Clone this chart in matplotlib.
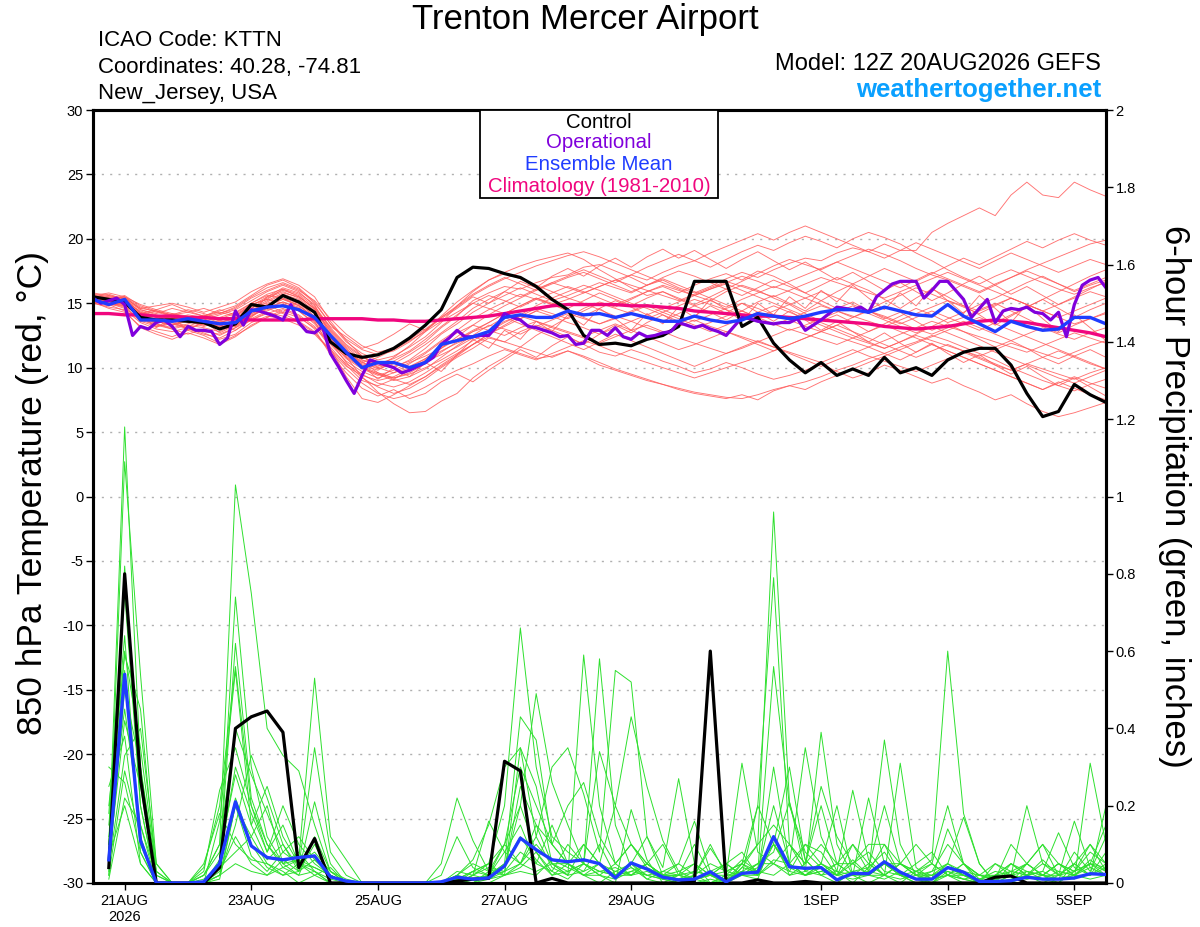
import matplotlib
matplotlib.use("Agg")
import matplotlib.pyplot as plt
import numpy as np
from matplotlib.patches import Rectangle

nan = float("nan")

# ---------------- data ----------------
hours6 = list(range(-12, 373, 6))   # 20AUG 12Z .. 5SEP 12Z, 6-hourly (65)
hours3 = list(range(-12, 373, 3))   # operational run, 3-hourly (129)

tick_hours = [0, 48, 96, 144, 192, 264, 312, 360]
tick_labels = ["21AUG\n2026", "23AUG", "25AUG", "27AUG", "29AUG", "1SEP", "3SEP", "5SEP"]

control_temp = [15.5, 15.3, 15.1, 13.9, 13.7, 13.7, 13.6, 13.5, 13.0, 13.4,
                14.9, 14.7, 15.6, 15.1, 14.3, 12.0, 11.1, 10.8, 11.0, 11.5,
                12.3, 13.3, 14.5, 17.0, 17.8, 17.7, 17.3, 17.0, 16.3, 15.3,
                14.5, 12.5, 11.8, 11.9, 11.7, 12.2, 12.5, 13.2, 16.7, 16.7,
                16.7, 13.2, 13.9, 11.9, 10.6, 9.6, 10.4, 9.4, 9.9, 9.4,
                10.8, 9.6, 10.0, 9.4, 10.6, 11.2, 11.5, 11.5, 10.2, 8.0,
                6.2, 6.6, 8.7, 7.9, 7.3]

mean_temp = [15.3, 14.9, 15.3, 13.7, 13.7, 13.6, 13.8, 13.6, 13.4, 13.5,
             14.4, 14.7, 14.8, 14.5, 13.9, 12.5, 11.2, 10.0, 10.4, 10.4,
             10.0, 10.4, 11.8, 12.1, 12.4, 12.8, 13.9, 14.1, 13.9, 13.9,
             14.4, 14.1, 14.2, 13.9, 14.2, 13.9, 13.6, 13.6, 14.0, 13.7,
             13.5, 13.7, 14.2, 14.0, 13.8, 14.0, 14.3, 14.5, 14.5, 14.3,
             14.7, 14.4, 14.1, 14.0, 14.9, 14.0, 13.4, 12.8, 13.6, 13.2,
             12.9, 13.0, 13.9, 13.9, 13.4]

climo_temp = [14.2, 14.2, 14.1, 14.1, 14.0, 14.0, 13.9, 13.9, 13.8, 13.8,
              13.7, 13.7, 13.7, 13.7, 13.8, 13.8, 13.8, 13.8, 13.7, 13.7,
              13.6, 13.6, 13.7, 13.8, 13.9, 14.0, 14.2, 14.4, 14.6, 14.8,
              14.9, 14.9, 14.9, 14.9, 14.8, 14.8, 14.7, 14.6, 14.4, 14.3,
              14.2, 14.1, 14.0, 14.0, 13.9, 13.8, 13.7, 13.6, 13.5, 13.4,
              13.2, 13.1, 13.0, 13.1, 13.2, 13.4, 13.6, 13.7, 13.6, 13.5,
              13.3, 13.1, 12.9, 12.7, 12.4]

oper_temp = [15.4, 15.0, 15.2, 15.4, 14.9, 12.5, 13.2, 13.0, 13.5, 13.7,
             13.2, 12.4, 13.2, 12.9, 12.9, 12.8, 11.8, 12.3, 14.4, 13.3,
             14.5, 14.4, 14.2, 14.0, 13.7, 14.9, 13.5, 12.8, 12.7, 13.2,
             11.1, 10.1, 9.0, 8.0, 9.4, 10.6, 10.4, 10.2, 10.0, 9.6,
             9.8, 10.1, 10.4, 10.8, 11.8, 12.3, 12.9, 12.4, 12.4, 12.5,
             12.5, 13.2, 14.2, 13.9, 13.7, 13.2, 13.1, 12.9, 12.7, 12.4,
             12.5, 11.8, 11.9, 12.9, 12.9, 12.5, 13.1, 12.4, 12.2, 12.7,
             12.4, 12.5, 12.7, 12.8, 13.5, 13.3, 13.1, 13.3, 13.0, 12.8,
             12.5, 13.2, 13.9, 13.8, 13.6, 13.5, 13.4, 13.5, 13.5, 13.8,
             12.9, 13.3, 13.7, 14.2, 14.7, 14.6, 14.5, 14.7, 14.3, 15.5,
             16.0, 16.5, 16.7, 16.7, 16.7, 15.4, 16.0, 16.7, 16.7, 16.0,
             15.3, 13.9, 14.6, 15.3, 13.5, 14.4, 14.6, 14.5, 14.7, 14.3,
             14.2, 13.7, 14.3, 12.4, 14.9, 16.4, 16.8, 17.0, 16.2]

member_temps = [
    [15.6,15.4,15.2,14.2,14.0,13.8,14.1,13.9,13.5,13.8,14.6,15.2,15.8,15.5,14.6,
     12.8,11.5,10.2,9.8,10.5,11.2,12.0,13.1,14.0,15.2,15.8,16.3,16.1,16.6,17.0,
     17.2,17.8,18.0,17.5,17.0,16.4,16.8,16.2,15.8,16.3,16.9,17.4,17.0,17.6,18.1,
     18.5,18.3,18.9,19.3,19.0,19.6,19.1,19.1,20.5,21.2,21.8,22.4,21.8,23.4,24.4,23.4,23.2,24.4,23.8,23.3],
    [15.2,15.0,14.8,13.6,13.2,13.5,13.0,12.8,12.6,13.1,14.0,14.8,15.3,14.9,13.8,
     12.0,10.4,9.2,8.5,8.0,8.4,9.1,10.0,10.8,11.5,12.3,12.0,12.8,13.3,12.9,
     12.4,11.8,11.2,10.9,11.4,11.0,10.5,10.1,9.6,9.9,10.4,10.0,9.5,9.1,9.4,
     9.8,10.3,9.7,9.2,9.6,10.2,9.8,9.3,8.8,9.2,8.6,8.1,7.5,7.9,7.2,6.6,6.2,6.5,6.9,7.3],
    [15.4,15.6,15.3,14.0,13.6,13.3,13.8,13.5,13.0,13.2,14.3,15.5,16.2,15.8,14.9,
     12.5,10.8,9.3,8.1,7.2,6.5,6.6,7.4,8.0,9.2,10.1,10.8,11.6,12.5,13.2,
     13.9,14.6,15.1,14.7,15.3,15.9,16.3,15.8,16.4,16.9,17.3,16.8,17.5,17.1,16.5,
     15.8,15.2,14.6,15.1,14.4,13.8,14.3,13.6,12.9,13.4,12.8,12.2,11.6,12.1,11.5,10.8,10.3,10.9,11.4,10.8],
    [15.0,15.3,15.5,14.5,14.2,14.6,14.3,14.0,14.4,14.8,15.6,16.4,16.8,16.2,15.1,
     13.4,12.0,11.1,10.6,10.9,11.6,12.4,13.5,14.8,15.9,16.8,17.4,17.9,18.3,18.6,
     18.9,18.4,17.6,16.9,16.2,15.6,15.9,15.3,14.8,15.2,15.9,16.4,16.0,15.4,14.9,
     14.2,13.6,14.1,13.5,12.8,13.4,14.0,14.6,14.1,13.5,13.9,14.5,15.0,14.4,13.8,13.2,12.7,13.3,13.8,14.2],
    [15.3,15.1,14.9,13.9,13.5,13.9,13.6,13.2,13.6,13.3,14.1,14.5,14.9,14.6,13.7,
     12.2,11.0,10.3,10.0,10.4,10.1,10.7,11.6,12.2,12.9,13.5,14.2,13.8,14.4,14.9,
     14.5,14.0,14.6,15.2,14.7,14.1,13.6,14.2,14.8,14.3,13.7,14.4,15.1,15.6,15.0,
     14.4,15.2,15.9,16.5,16.0,15.3,14.6,15.4,16.1,15.5,14.8,14.1,13.3,14.0,14.7,15.3,14.6,13.9,14.5,15.0],
    [15.5,15.2,15.0,14.1,13.4,13.1,13.4,13.8,13.3,12.9,13.7,14.2,14.6,14.1,13.2,
     11.6,10.2,9.0,8.6,9.1,9.8,10.6,11.3,11.9,12.4,12.0,11.5,11.1,10.7,10.9,
     11.3,10.8,10.2,9.8,9.4,9.0,8.7,8.4,8.1,7.9,7.7,7.6,7.9,8.3,8.6,
     8.9,9.3,9.8,10.2,10.7,11.1,11.6,12.0,12.5,12.1,11.6,11.1,10.6,10.0,9.5,9.0,8.6,8.2,8.7,9.1],
    [15.1,14.9,15.2,14.3,13.9,13.6,13.2,13.7,14.1,14.5,15.2,15.9,16.4,15.9,14.8,
     13.1,11.8,10.9,10.2,10.0,10.6,11.5,12.6,13.4,14.3,15.0,15.6,16.2,15.7,15.2,
     15.6,16.1,16.6,16.2,15.8,16.4,17.0,17.5,17.1,16.6,16.1,16.7,17.3,17.9,18.4,
     18.0,17.6,18.2,18.7,19.2,18.8,18.3,17.7,17.2,16.8,16.3,15.8,16.4,17.0,17.6,18.1,18.6,19.1,19.6,19.9],
    [15.7,15.5,15.4,14.6,14.4,14.1,14.5,14.2,13.8,14.2,15.0,15.6,15.4,14.8,13.9,
     12.4,11.2,10.5,9.6,9.2,9.5,10.0,10.6,11.3,12.1,12.8,13.5,14.1,14.8,15.4,
     15.9,16.4,16.0,15.5,15.0,14.6,14.1,13.6,13.1,13.5,14.0,14.4,13.9,13.4,12.9,
     13.3,13.8,14.3,14.8,14.2,13.7,13.2,12.7,13.2,13.8,14.3,14.9,15.4,16.0,16.6,17.1,16.5,15.9,16.4,16.8],
    [15.0,14.7,14.5,13.5,13.0,12.8,13.1,12.7,12.2,12.6,13.5,14.0,13.8,13.3,12.6,
     11.3,10.1,9.4,9.0,9.3,9.9,10.5,11.0,11.6,12.3,12.9,13.6,14.0,13.6,13.1,
     12.7,12.3,11.9,12.4,12.9,13.3,12.8,12.3,11.9,11.5,11.1,11.5,12.0,11.6,11.2,
     10.8,10.4,10.9,11.4,10.9,10.5,10.1,9.7,10.2,10.7,11.2,10.7,10.2,9.8,10.3,9.9,9.5,9.1,9.6,10.0],
    [15.4,15.2,15.1,14.4,14.0,13.7,13.9,13.4,13.1,13.6,14.4,15.1,15.7,15.3,14.2,
     12.6,11.3,10.4,9.9,10.3,11.0,11.8,12.7,13.6,14.6,15.3,15.9,15.5,16.1,16.6,
     16.2,15.8,16.3,16.8,17.2,16.8,17.4,17.9,18.3,17.8,18.4,19.0,19.5,19.1,19.7,
     20.2,19.8,19.3,20.0,20.5,20.1,19.6,18.9,18.3,17.6,17.0,16.5,17.1,17.6,17.1,16.6,16.1,15.7,16.2,16.6],
    [15.2,15.4,15.0,13.8,13.7,14.0,13.7,13.3,13.7,14.0,14.9,15.3,15.0,14.4,13.5,
     12.1,10.9,10.0,9.5,9.0,9.3,9.9,10.8,11.7,12.5,13.3,13.0,12.6,13.2,13.7,
     14.2,13.8,13.4,13.9,14.4,14.9,14.5,14.0,13.6,14.1,14.6,15.0,14.6,14.1,13.7,
     13.2,12.8,13.3,13.9,14.4,14.0,13.5,13.0,12.6,13.1,13.6,13.1,12.6,12.1,12.6,13.1,12.6,12.2,12.7,13.1],
    [15.6,15.3,15.5,14.7,14.3,14.0,13.6,14.0,14.3,14.0,14.8,15.5,16.0,15.6,14.5,
     12.9,11.6,10.6,10.1,10.8,11.7,12.8,14.0,15.1,16.0,16.8,17.3,16.9,16.4,15.9,
     15.4,15.0,14.5,14.0,13.6,13.1,12.7,13.2,13.7,13.2,12.8,12.4,12.0,12.5,13.0,
     12.6,12.2,11.8,12.3,11.9,11.5,12.0,12.5,12.1,11.7,11.3,10.9,11.4,11.9,11.5,11.1,10.7,11.2,11.7,12.1],
    [15.3,15.0,14.6,13.7,13.3,13.0,13.3,13.1,12.8,13.4,14.2,14.7,15.1,14.7,13.6,
     11.5,9.3,7.6,7.3,7.9,8.6,9.3,10.1,10.9,11.8,12.6,13.2,13.8,14.4,14.0,
     13.5,13.1,12.6,13.1,13.6,14.1,14.6,15.1,15.6,15.2,14.7,15.3,15.8,16.3,15.9,
     15.4,14.9,14.4,13.9,14.5,15.1,15.6,16.2,15.7,15.2,14.7,14.2,14.8,15.4,14.9,14.4,13.9,14.4,14.9,15.4],
    [15.1,15.3,15.6,14.8,14.4,14.1,14.3,14.6,14.2,14.6,15.4,16.0,16.5,16.0,15.2,
     13.8,12.6,11.7,11.2,11.5,12.2,13.0,13.9,14.7,15.6,16.3,16.9,17.4,17.9,18.3,
     18.7,19.0,18.6,18.1,17.6,17.1,16.6,16.1,15.6,16.1,16.5,16.0,15.5,15.0,14.5,
     14.0,13.5,13.0,12.5,12.0,11.5,12.0,12.6,13.2,12.7,12.2,11.7,11.2,10.7,10.2,9.7,9.2,8.8,9.3,9.8],
    [15.5,15.7,15.3,14.3,13.9,13.5,13.1,13.4,13.0,13.5,14.2,14.6,14.2,13.6,12.8,
     11.2,9.9,8.8,8.0,7.6,7.9,8.5,9.2,9.8,10.3,10.9,11.4,11.0,10.6,11.1,
     11.6,12.1,11.7,11.2,10.8,10.4,10.0,9.6,9.2,9.6,10.0,10.4,10.8,11.3,11.8,
     12.3,12.8,12.4,12.0,11.6,12.1,12.6,13.1,13.6,13.2,12.8,12.4,12.0,11.6,11.2,11.7,12.2,12.7,12.3,11.9],
    [15.2,15.0,14.7,13.6,13.8,14.2,13.9,13.5,13.2,13.7,14.6,15.4,15.9,15.4,14.4,
     12.7,11.4,10.6,10.3,10.7,11.3,12.2,13.2,14.1,15.0,15.6,15.2,14.7,15.3,15.8,
     16.3,15.9,15.4,14.9,15.4,15.9,16.4,16.0,15.6,16.1,16.6,17.1,16.7,16.2,16.7,
     17.2,17.7,18.2,17.7,17.2,16.7,16.2,16.8,17.4,16.9,16.4,15.9,16.5,17.0,17.5,17.0,16.5,16.0,16.5,17.0],
    [15.4,15.1,14.9,13.9,13.2,13.4,13.0,12.6,12.3,12.9,13.8,14.4,14.9,14.4,13.4,
     11.8,10.5,9.7,9.2,9.6,10.3,11.1,12.0,12.7,13.3,12.9,12.5,13.1,13.6,13.2,
     12.8,12.4,12.9,13.4,12.9,12.4,11.9,11.4,11.8,12.3,12.8,12.3,11.8,11.3,11.8,
     12.3,12.8,13.3,12.8,12.3,11.8,11.3,10.8,11.3,11.8,11.3,10.8,10.3,9.8,10.3,10.8,11.3,10.8,10.3,9.9],
    [15.8,15.6,15.4,14.6,14.8,15.0,14.7,14.3,14.7,15.1,15.9,16.5,16.9,16.4,15.5,
     13.6,12.1,10.9,10.0,9.6,10.0,10.7,11.5,12.4,13.3,14.1,14.8,15.4,16.0,16.5,
     17.0,17.4,16.9,16.4,15.9,16.4,16.9,16.4,15.9,15.4,14.9,14.4,13.9,14.4,14.9,
     15.4,15.9,15.4,14.9,14.4,13.9,13.4,13.9,14.4,13.9,13.4,12.9,13.5,14.1,14.7,15.3,15.9,16.5,17.1,17.6],
    [15.3,15.5,15.2,14.0,13.6,13.3,13.6,13.3,13.5,13.9,14.7,15.0,15.4,15.0,14.0,
     12.3,11.0,10.1,9.6,9.2,9.6,10.3,11.2,12.0,12.8,13.5,14.2,14.8,15.4,14.9,
     14.4,13.9,13.4,13.8,14.3,14.8,14.3,13.8,13.3,12.8,13.3,13.8,14.3,14.8,14.3,
     13.8,13.3,12.8,12.3,12.8,13.3,12.8,12.3,11.8,11.3,10.8,10.3,9.8,9.3,8.8,8.3,8.8,9.3,8.8,8.4],
    [15.0,15.2,14.9,14.2,14.5,14.2,14.0,13.6,13.9,14.3,15.0,15.7,16.1,15.7,14.7,
     13.0,11.7,10.8,10.4,10.1,10.5,11.2,12.1,12.9,13.8,14.5,15.1,15.7,15.3,14.9,
     15.3,15.8,16.3,16.8,16.4,16.0,15.6,15.2,15.7,16.2,16.7,16.3,15.9,15.5,16.0,
     16.5,17.0,16.6,16.2,15.8,15.4,15.9,16.4,16.9,17.4,16.9,16.4,15.9,15.4,14.9,14.4,14.9,15.4,15.9,15.5],
    [15.1,14.6,14.3,13.2,12.8,12.4,12.9,12.5,11.9,12.5,13.2,13.9,14.5,14.0,13.0,
     11.0,9.6,8.4,7.8,8.3,7.6,8.0,8.9,9.5,8.9,9.8,10.6,11.4,10.8,11.7,
     12.4,11.8,12.6,13.3,12.7,13.5,14.1,13.4,14.0,14.8,14.2,15.0,14.3,13.6,14.4,
     13.7,12.9,13.6,12.8,12.0,12.7,11.9,11.2,11.9,11.1,10.4,11.0,10.2,9.5,10.1,9.3,8.6,9.2,8.5,7.8],
    [15.6,15.8,15.5,14.9,14.5,14.9,14.4,14.0,14.5,14.1,14.9,15.3,16.1,15.5,14.6,
     13.2,12.4,11.5,11.9,12.6,13.4,12.9,13.8,14.6,15.5,15.0,15.9,16.7,16.2,17.1,
     17.7,17.1,17.9,18.5,17.8,18.6,19.2,18.5,19.1,18.4,17.7,18.4,19.0,18.3,17.6,
     18.2,17.5,16.8,17.4,16.7,16.0,16.6,15.9,15.2,15.8,16.5,17.1,16.4,15.7,16.3,15.6,14.9,15.5,16.1,16.7],
    [15.3,14.9,15.4,14.2,13.1,13.9,12.9,13.6,12.7,13.3,13.9,14.9,14.3,15.2,13.9,
     12.4,11.1,10.2,9.1,10.0,9.3,10.4,9.7,11.0,12.2,11.5,12.9,12.2,13.6,12.8,
     14.1,13.3,14.6,13.8,12.9,14.2,13.4,14.7,13.9,15.3,14.5,13.6,15.0,14.1,15.5,
     14.6,16.0,15.1,16.4,15.4,14.5,15.8,14.8,16.2,15.2,14.2,15.6,14.6,13.5,14.9,13.8,12.8,14.1,13.1,12.1],
    [15.5,15.2,15.3,14.5,14.1,13.8,14.0,13.6,13.2,13.8,14.5,14.9,15.3,14.8,13.9,
     12.0,10.7,9.9,9.4,9.8,10.4,10.9,11.5,12.2,12.8,13.2,13.9,13.4,12.9,12.4,
     11.9,11.4,12.0,12.6,12.1,11.6,11.1,10.6,10.1,10.6,11.1,11.6,12.1,11.6,11.1,
     10.6,10.1,10.6,11.1,11.6,11.1,10.6,11.2,11.8,11.3,10.8,10.3,9.8,9.3,8.8,8.3,8.9,8.4,7.9,7.5],
    [15.2,15.4,15.1,14.1,14.4,14.0,13.5,13.9,14.2,14.7,15.5,16.2,16.6,16.1,15.0,
     13.4,12.2,11.4,11.0,11.3,12.0,12.9,13.9,14.8,15.7,16.4,17.0,16.5,16.0,16.6,
     17.1,17.6,17.1,16.6,17.2,17.8,18.3,18.8,18.3,18.9,19.4,19.9,20.4,19.9,20.5,
     21.0,20.5,20.0,19.5,19.0,18.5,19.1,19.7,19.2,18.7,18.2,17.7,18.3,18.9,18.4,17.9,17.4,17.9,18.4,18.0],
    [15.0,14.8,15.0,13.8,13.4,13.0,12.6,13.0,12.5,13.1,13.7,14.3,14.0,13.5,12.7,
     11.4,10.3,9.5,8.8,8.5,8.9,9.6,10.4,11.1,11.8,12.4,12.0,11.6,11.2,10.8,
     11.3,10.9,10.4,9.9,9.5,9.1,8.7,8.3,8.0,7.8,7.6,7.9,7.5,8.2,8.6,
     8.3,8.9,9.4,9.9,10.4,10.9,11.4,11.9,12.4,12.9,13.4,13.9,13.4,12.9,12.4,11.9,11.4,10.9,10.4,9.9],
    [15.4,15.0,14.8,14.0,13.6,13.3,13.7,14.1,13.7,13.2,14.0,14.6,15.1,14.6,13.7,
     12.3,11.1,10.4,10.8,11.4,12.1,12.8,13.6,14.3,15.0,14.6,14.2,14.8,15.4,15.0,
     14.6,15.2,15.8,15.3,14.8,15.4,15.9,15.4,14.9,15.5,16.1,15.6,16.2,16.8,16.3,
     15.8,16.4,17.0,16.5,17.1,17.7,17.2,16.7,17.3,17.9,18.5,18.0,18.6,19.2,19.8,19.3,19.9,20.4,19.9,19.5],
    [15.2,14.9,14.4,13.1,12.6,12.2,12.7,12.3,11.8,12.4,13.3,13.9,14.3,13.9,13.1,
     11.9,10.8,10.0,9.5,9.1,8.7,9.3,10.2,11.0,11.8,12.6,13.3,14.0,14.6,14.2,
     13.8,14.4,15.0,14.6,14.2,13.8,14.3,14.8,15.3,14.9,14.5,14.1,13.7,13.3,13.8,
     14.3,14.8,14.4,14.0,13.6,13.2,13.7,14.2,14.7,15.2,14.8,14.4,14.9,15.4,14.9,14.4,13.9,13.4,13.8,14.3],
]

control_precip = [nan, 0.04, 0.80, 0.27, 0.0, 0.0, 0.0, 0.0, 0.04, 0.40,
                  0.43, 0.445, 0.39, 0.04, 0.115, 0.0, 0.0, 0.0, 0.0, 0.0,
                  0.0, 0.0, 0.0, 0.005, 0.01, 0.012, 0.315, 0.29, 0.0, 0.012,
                  0.0, 0.0, 0.0, 0.0, 0.0, 0.0, 0.0, 0.0, 0.005, 0.60,
                  0.0, 0.0, 0.008, 0.0, 0.0, 0.004, 0.0, 0.0, 0.0, 0.0,
                  0.0, 0.0, 0.0, 0.0, 0.0, 0.0, 0.0, 0.015, 0.018, 0.0,
                  0.0, 0.0, 0.0, 0.0, 0.0]

mean_precip = [nan, 0.06, 0.54, 0.11, 0.0, 0.0, 0.0, 0.003, 0.05, 0.21,
               0.096, 0.066, 0.06, 0.066, 0.07, 0.016, 0.005, 0.0, 0.0, 0.0,
               0.0, 0.0, 0.003, 0.015, 0.01, 0.013, 0.044, 0.116, 0.086, 0.06,
               0.055, 0.06, 0.05, 0.013, 0.052, 0.036, 0.015, 0.008, 0.01, 0.029,
               0.003, 0.025, 0.028, 0.12, 0.042, 0.038, 0.04, 0.008, 0.025, 0.024,
               0.055, 0.028, 0.01, 0.01, 0.04, 0.028, 0.004, 0.004, 0.006, 0.015,
               0.01, 0.01, 0.013, 0.024, 0.022]

member_precips = [
    [nan,0.10,1.18,0.30,0.00,0,0,0,0.02,0.20, 0.12,0.05,0.03,0.00,0.02,0,0,0,0,0,
     0,0,0,0.02,0.05,0.03,0.10,0.20,0.08,0.03, 0.01,0.05,0.02,0,0.19,0.06,0,0,0,0.01,
     0,0.04,0.10,0.96,0.21,0.06,0.02,0,0.03,0.02, 0.05,0.02,0,0,0.03,0.01,0,0,0.02,0.05,
     0.02,0,0.03,0.08,0.05],
    [nan,0.05,1.09,0.54,0.05,0,0,0,0.05,0.74, 0.30,0.12,0.05,0.08,0.03,0,0,0,0,0,
     0,0,0.02,0.12,0.04,0.02,0.05,0.43,0.37,0.10, 0.05,0.02,0,0.03,0.05,0.12,0.02,0,0,0,
     0.02,0.06,0.03,0.20,0.05,0.35,0.12,0.03,0,0.04, 0.08,0.02,0,0.01,0.14,0.05,0,0,0,0.03,
     0.01,0,0.05,0.02,0.04],
    [nan,0.02,0.82,0.20,0,0,0,0.02,0.10,1.03, 0.75,0.40,0.33,0.29,0.15,0.03,0,0,0,0,
     0,0,0,0.03,0.02,0.16,0.08,0.05,0.12,0.04, 0.02,0.59,0.20,0.05,0.02,0.03,0.01,0,0.02,0,
     0,0.02,0.05,0.08,0.21,0.03,0.39,0.10,0.02,0, 0.02,0,0.03,0.06,0.60,0.18,0.05,0,0,0.02,
     0.03,0.01,0.02,0.06,0.03],
    [nan,0.15,0.64,0.08,0,0,0,0,0.05,0.62, 0.22,0.10,0.04,0.06,0.53,0.12,0.06,0,0,0,
     0,0,0,0,0.03,0.05,0.20,0.66,0.30,0.12, 0.08,0.05,0.58,0.15,0.04,0.01,0,0.02,0.05,0.02,
     0,0.05,0.20,0.79,0.10,0.03,0.05,0.02,0.06,0.02, 0.01,0.03,0.01,0,0.04,0.02,0,0,0.05,0.02,
     0,0.02,0.01,0.31,0.10],
    [nan,0.20,0.59,0.45,0.02,0,0,0,0.16,0.55, 0.15,0.06,0.10,0.03,0.21,0.05,0,0,0,0,
     0,0,0.05,0.22,0.11,0.03,0.04,0.20,0.49,0.26, 0.15,0.05,0.34,0.20,0.43,0.25,0.11,0.03,0.01,0,
     0.02,0.31,0.08,0.05,0.03,0.10,0.05,0.20,0.02,0.03, 0.37,0.10,0.02,0,0.02,0.05,0.01,0,0.02,0.20,
     0.05,0.02,0.05,0.02,0.20],
    [nan,0.08,0.55,0.10,0,0,0,0.03,0.24,0.35, 0.20,0.08,0.15,0.05,0.02,0.04,0,0,0,0,
     0,0,0,0.02,0.06,0.15,0.30,0.35,0.12,0.30, 0.35,0.23,0.08,0.55,0.52,0.12,0.04,0.27,0.05,0,
     0.01,0.02,0.04,0.10,0.30,0.06,0.02,0.03,0.24,0.06, 0.02,0.31,0.04,0.01,0.05,0.02,0,0.01,0,0.05,
     0.10,0.02,0.16,0.04,0.02],
    [nan,0.03,0.50,0.30,0.03,0,0,0.02,0.10,0.40, 0.28,0.18,0.08,0.12,0.06,0.02,0,0,0,0,
     0,0,0,0.01,0.03,0.02,0.10,0.30,0.20,0.10, 0.20,0.26,0.12,0.05,0.10,0.04,0.02,0.02,0.10,0.02,
     0,0.04,0.03,0.56,0.20,0.08,0.04,0.01,0.02,0.22, 0.05,0.02,0.01,0.03,0.05,0.17,0.05,0,0.01,0.02,
     0.03,0.13,0.04,0.02,0.08],
    [nan,0.12,0.45,0.15,0,0,0,0,0.03,0.12, 0.05,0.02,0.06,0.03,0.10,0.02,0,0,0,0,
     0,0,0,0,0.01,0.02,0.05,0.12,0.06,0.02, 0.05,0.03,0.10,0.02,0.04,0.02,0.01,0,0.02,0.09,
     0.03,0.05,0.02,0.06,0.05,0.02,0.04,0.02,0.03,0.04, 0.20,0.05,0.10,0.05,0.02,0,0,0.05,0.03,0.02,
     0.06,0.02,0.03,0.05,0.15],
    [nan,0.06,0.42,0.25,0,0,0,0.01,0.04,0.22, 0.10,0.04,0.02,0.05,0.03,0,0,0,0,0,
     0,0,0,0,0.02,0.04,0.03,0.25,0.15,0.05, 0.03,0.05,0.02,0.01,0.03,0.05,0.02,0.05,0.16,0.03,
     0.05,0.02,0.01,0.12,0.02,0.05,0.20,0.05,0.10,0.03, 0.02,0.05,0.02,0.02,0.05,0.03,0.02,0.02,0.03,0.05,
     0.02,0.05,0.03,0.10,0.05],
    [nan,0.25,0.38,0.05,0,0,0,0,0.02,0.15, 0.33,0.22,0.10,0.04,0.35,0.08,0.02,0,0,0,
     0,0,0,0,0,0.02,0.08,0.15,0.05,0.03, 0.10,0.05,0.03,0.02,0.05,0.01,0.03,0.05,0.02,0.10,
     0.02,0.02,0.20,0.10,0.04,0.02,0.05,0.03,0.02,0.02, 0.05,0.05,0.02,0.01,0.02,0.05,0.02,0.01,0.03,0.02,
     0.05,0.03,0.02,0.04,0.02],
    [nan,0.04,0.33,0.40,0.05,0,0,0,0.06,0.30, 0.18,0.08,0.20,0.10,0.05,0.02,0,0,0,0,
     0,0,0,0.02,0.01,0.02,0.03,0.05,0.10,0.05, 0.02,0.03,0.05,0.03,0.02,0.05,0.10,0.02,0.01,0.02,
     0.05,0.08,0.02,0.30,0.05,0.10,0.08,0.02,0.05,0.08, 0.03,0.02,0.05,0.08,0.02,0.01,0,0.02,0.05,0.03,
     0.02,0.01,0.08,0.03,0.12],
    [nan,0.02,0.29,0.12,0,0,0,0,0.02,0.05, 0.03,0.02,0.04,0.02,0.12,0.03,0.01,0,0,0,
     0,0,0,0,0,0,0.02,0.05,0.03,0.05, 0.02,0.10,0.05,0.02,0.03,0.02,0.01,0.02,0.01,0.02,
     0.01,0.03,0.05,0.05,0.10,0.05,0.25,0.12,0.05,0.02, 0.05,0.02,0.01,0.02,0.04,0.02,0.01,0.02,0.02,0.05,
     0.10,0.05,0.02,0.02,0.05],
    [nan,0.30,0.26,0.08,0,0,0,0.05,0.18,0.10, 0.06,0.05,0.02,0.03,0.06,0.02,0,0,0,0,
     0,0,0,0.01,0,0.01,0.03,0.08,0.05,0.15, 0.05,0.02,0.02,0.05,0.10,0.05,0.02,0.03,0.05,0.02,
     0.03,0.02,0.05,0.10,0.03,0.02,0.05,0.02,0.10,0.05, 0.02,0.05,0.03,0.01,0.02,0.02,0.01,0.03,0.02,0.01,
     0.02,0.05,0.02,0.05,0.04],
    [nan,0.01,0.22,0.15,0.02,0,0,0,0.04,0.08, 0.12,0.20,0.05,0.02,0.03,0.01,0,0,0,0,
     0,0,0,0,0,0.03,0.02,0.03,0.02,0.06, 0.04,0.02,0.03,0.04,0.02,0.05,0.02,0.01,0.03,0.02,
     0.02,0.03,0.02,0.05,0.02,0.03,0.02,0.05,0.02,0.03, 0.10,0.02,0.03,0.02,0.03,0.02,0.01,0.02,0.05,0.02,
     0.01,0.03,0.02,0.01,0.02],
    [nan,0.07,0.20,0.05,0,0,0,0,0.01,0.20, 0.07,0.03,0.08,0.05,0.04,0.02,0,0,0,0,
     0,0,0,0,0.02,0.01,0.02,0.04,0.08,0.02, 0.03,0.05,0.03,0.02,0.05,0.02,0.03,0.02,0.01,0.02,
     0.01,0.05,0.03,0.02,0.05,0.02,0.03,0.02,0.01,0.02, 0.02,0.01,0.02,0.05,0.02,0.01,0.02,0.01,0.02,0.01,
     0.02,0.01,0.02,0.05,0.02],
    [nan,0.18,0.75,0.20,0,0,0,0.04,0.20,0.56, 0.20,0.10,0.05,0.06,0.04,0.02,0,0,0,0,
     0,0,0,0,0.02,0.05,0.02,0.35,0.25,0.05, 0.05,0.02,0.05,0.02,0.02,0.05,0.02,0.02,0.03,0.02,
     0.05,0.02,0.02,0.10,0.05,0.02,0.03,0.05,0.02,0.05, 0.02,0.05,0.03,0.05,0.20,0.05,0.02,0.05,0.02,0.03,
     0.02,0.02,0.05,0.10,0.03],
    [nan,0.10,0.60,0.35,0.03,0,0,0.02,0.08,0.28, 0.15,0.25,0.12,0.05,0.08,0.03,0,0,0,0,
     0,0,0,0.01,0.03,0.05,0.10,0.05,0.15,0.10, 0.05,0.10,0.05,0.20,0.10,0.05,0.02,0.01,0.02,0.05,
     0.03,0.05,0.10,0.15,0.10,0.05,0.10,0.05,0.05,0.10, 0.10,0.05,0.02,0.03,0.10,0.05,0.02,0.01,0.10,0.05,
     0.02,0.05,0.03,0.05,0.03],
]

# ---------------- styling ----------------
plt.rcParams["font.family"] = ["Liberation Sans", "DejaVu Sans"]

W, H = 1200, 927
fig = plt.figure(figsize=(W / 100, H / 100), dpi=100)
L, R, T, B = 93, 1106, 110, 883
ax = fig.add_axes([L / W, 1 - B / H, (R - L) / W, (B - T) / H])
ax2 = ax.twinx()

RED = "#ff5a5a"
GREEN = "#2ee02e"
PURPLE = "#8000dc"
BLUE = "#1f3cff"
PINK = "#f0067e"

for m in member_temps:
    ax.plot(hours6, m, color=RED, lw=0.65, alpha=0.85, zorder=2)
ax.plot(hours6, climo_temp, color=PINK, lw=2.4, zorder=4, solid_joinstyle="round")
ax.plot(hours6, control_temp, color="black", lw=2.3, zorder=5, solid_joinstyle="round")
ax.plot(hours3, oper_temp, color=PURPLE, lw=2.3, zorder=6, solid_joinstyle="round")
ax.plot(hours6, mean_temp, color=BLUE, lw=2.4, zorder=7, solid_joinstyle="round")

for m in member_precips:
    ax2.plot(hours6, m, color=GREEN, lw=0.7, zorder=2)
ax2.plot(hours6, control_precip, color="black", lw=2.3, zorder=5, solid_joinstyle="round")
ax2.plot(hours6, mean_precip, color=BLUE, lw=2.4, zorder=6, solid_joinstyle="round")

ax.set_xlim(-12, 372)
ax.set_ylim(-30, 30)
ax2.set_ylim(0, 2)

ax.set_yticks(np.arange(-30, 31, 5))
ax.set_yticklabels([f"{v:g}" for v in np.arange(-30, 31, 5)])
ax2.set_yticks(np.round(np.arange(0, 2.01, 0.2), 1))
ax2.set_yticklabels([f"{v:g}" for v in np.round(np.arange(0, 2.01, 0.2), 1)])
ax.set_xticks(tick_hours)
ax.set_xticklabels(tick_labels)

ax.yaxis.grid(True, linestyle=(0, (1.5, 4.5)), color="#b0b0b0", linewidth=1.0)
ax.set_axisbelow(True)

for a in (ax, ax2):
    for s in a.spines.values():
        s.set_linewidth(2.2)
        s.set_color("black")
ax.tick_params(axis="both", direction="out", length=5, width=1, labelsize=10.5, pad=2)
ax2.tick_params(axis="y", direction="out", length=5, width=1, labelsize=10.5, pad=2)
ax.tick_params(axis="y", right=False)
ax.tick_params(axis="x", pad=3)

# ---------------- texts ----------------
def ft(x, y, s, **kw):
    fig.text(x / W, 1 - y / H, s, **kw)

ft(585, 19, "Trenton Mercer Airport", ha="center", va="center", fontsize=25)
ft(98, 40, "ICAO Code: KTTN", ha="left", va="center", fontsize=16)
ft(98, 67, "Coordinates: 40.28, -74.81", ha="left", va="center", fontsize=16)
ft(98, 94, "New_Jersey, USA", ha="left", va="center", fontsize=16)
ft(1101, 64, "Model: 12Z 20AUG2026 GEFS", ha="right", va="center", fontsize=17)
ft(1101, 90, "weathertogether.net", ha="right", va="center", fontsize=18.5,
   fontweight="bold", color="#0aa0ff")

ft(33, 493, "850 hPa Temperature (red, °C)", ha="center", va="center",
   rotation=90, fontsize=25.5)
ft(1175, 496, "6-hour Precipitation (green, inches)", ha="center", va="center",
   rotation=270, fontsize=25)

# legend box
bx0, bx1, by0, by1 = 480, 718, 110, 198
fig.patches.append(Rectangle((bx0 / W, 1 - by1 / H), (bx1 - bx0) / W, (by1 - by0) / H,
                             transform=fig.transFigure, facecolor="white",
                             edgecolor="black", linewidth=1.3, zorder=10))
leg_items = [("Control", "black", 122), ("Operational", PURPLE, 143),
             ("Ensemble Mean", BLUE, 164), ("Climatology (1981-2010)", PINK, 186)]
for txt, col, yy in leg_items:
    ft(599, yy, txt, ha="center", va="center", fontsize=14.7, color=col, zorder=11)

fig.savefig("out.png", dpi=100)
